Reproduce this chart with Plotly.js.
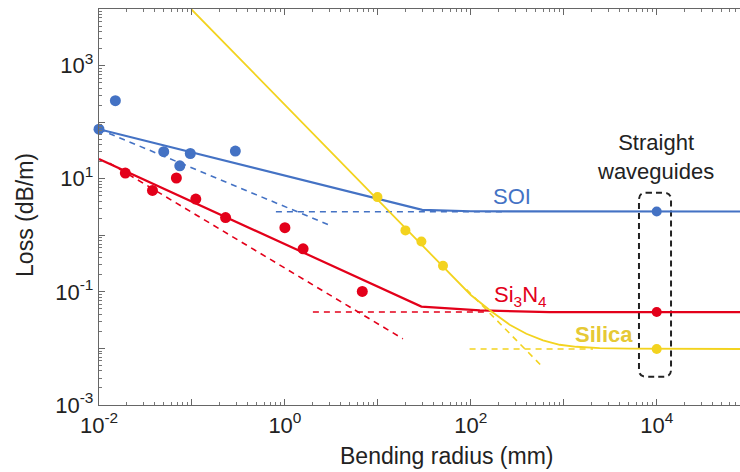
<!DOCTYPE html>
<html>
<head>
<meta charset="utf-8">
<script src="https://cdn.plot.ly/plotly-3.0.1.min.js"></script>
<style>html,body{margin:0;padding:0;background:#fff;}#chart{width:740px;height:472px;}</style>
</head>
<body>
<div id="chart"></div>
<script>
const soiBendR = [0.01, 0.015, 0.0497, 0.074, 0.096, 0.293];
const soiBendLoss = [75, 240, 30, 16.9, 27.9, 30.8];
const sinBendR = [0.0192, 0.0376, 0.068, 0.11, 0.23, 1.0, 1.57, 6.8];
const sinBendLoss = [12.6, 6.2, 10.3, 4.37, 2.06, 1.36, 0.577, 0.1016];
const silicaBendR = [9.9, 19.8, 29.4, 50.2];
const silicaBendLoss = [4.73, 1.22, 0.778, 0.289];

// ---- straight waveguides ----
const straightR = [10000, 10000, 10000];
const straightLoss = [2.63, 0.044, 0.00975];

// ---- model curves (solid) ----
const soiModelR = [0.01, 30, 100, 1000, 100000];
const soiModelLoss = [75, 2.82, 2.66, 2.63, 2.63];
const sinModelR = [0.01, 29.4, 125, 700, 100000];
const sinModelLoss = [22.2, 0.055, 0.047, 0.044, 0.044];
const silicaModelR = [0.0986, 50.2, 100, 166.7, 262, 396, 598, 904, 1368, 2438, 5000, 100000];
const silicaModelLoss = [9900, 0.289, 0.088, 0.0451, 0.0262, 0.0182, 0.01384, 0.01161, 0.0107, 0.01016, 0.0099, 0.00975];

// ---- asymptotes (dashed) ----
const soiBendOnlyR = [0.01, 2.9];
const soiBendOnlyLoss = [75, 1.55];
const soiFlatR = [0.8, 240];
const soiFlatLoss = [2.6, 2.6];
const sinBendOnlyR = [0.013, 18.6];
const sinBendOnlyLoss = [18.9, 0.0148];
const sinFlatR = [2.0, 147];
const sinFlatLoss = [0.044, 0.044];
const silicaBendOnlyR = [90, 575];
const silicaBendOnlyLoss = [0.11, 0.00494];
const silicaFlatR = [97, 2065];
const silicaFlatLoss = [0.00975, 0.00975];

// ---- axis ticks ----
const xLabelVals = [0.01, 1, 100, 10000];
const xLabelText = ['10<sup>-2</sup>', '10<sup>0</sup>', '10<sup>2</sup>', '10<sup>4</sup>'];
const xOddDecades = [0.1, 10, 1000, 100000];
const yLabelVals = [0.001, 0.1, 10, 1000];
const yLabelText = ['10<sup>-3</sup>', '10<sup>-1</sup>', '10<sup>1</sup>', '10<sup>3</sup>'];
const yOddDecades = [0.01, 1, 100, 10000];

const BLUE = '#4472C4', RED = '#E3001A', YEL = '#F3D31F', YELTXT = '#E6C935';
const FONT = 'Liberation Sans, Arial, sans-serif';

function line(x, y, color, width, dash) {
  return {x: x, y: y, type: 'scatter', mode: 'lines', hoverinfo: 'skip',
          line: {color: color, width: width, dash: dash || 'solid'}};
}
function pts(x, y, color, size) {
  return {x: x, y: y, type: 'scatter', mode: 'markers', cliponaxis: false, hoverinfo: 'skip',
          marker: {color: color, size: size, line: {width: 0}}};
}

const traces = [
  // empty trace that carries the helper axes (unlabelled decade ticks)
  {x: [], y: [], type: 'scatter', mode: 'markers', xaxis: 'x2', yaxis: 'y2', hoverinfo: 'skip'},
  line(soiBendOnlyR, soiBendOnlyLoss, BLUE, 1.6, '6px,5px'),
  line(soiFlatR, soiFlatLoss, BLUE, 1.6, '6px,5px'),
  line(sinBendOnlyR, sinBendOnlyLoss, RED, 1.6, '6px,5px'),
  line(sinFlatR, sinFlatLoss, RED, 1.6, '6px,5px'),
  line(silicaBendOnlyR, silicaBendOnlyLoss, YEL, 1.6, '6px,5px'),
  line(silicaFlatR, silicaFlatLoss, YEL, 1.6, '6px,5px'),
  line(soiModelR, soiModelLoss, BLUE, 2.2),
  line(sinModelR, sinModelLoss, RED, 2.2),
  line(silicaModelR, silicaModelLoss, YEL, 1.8),
  pts(soiBendR, soiBendLoss, BLUE, 11),
  pts(sinBendR, sinBendLoss, RED, 11),
  pts(silicaBendR, silicaBendLoss, YEL, 10),
  pts(straightR, straightLoss, [BLUE, RED, YEL], 10)
];

// dashed rounded box around straight-waveguide points (paper coords)
const bx0 = 0.8424, bx1 = 0.8924, byt = 0.5361, byb = 0.0715, rx = 0.0109, ry = 0.0177;
const boxPath = `M ${bx0+rx},${byt} L ${bx1-rx},${byt} Q ${bx1},${byt} ${bx1},${byt-ry} ` +
  `L ${bx1},${byb+ry} Q ${bx1},${byb} ${bx1-rx},${byb} L ${bx0+rx},${byb} ` +
  `Q ${bx0},${byb} ${bx0},${byb+ry} L ${bx0},${byt-ry} Q ${bx0},${byt} ${bx0+rx},${byt} Z`;

const axisCommon = {
  type: 'log', showgrid: false, zeroline: false, showline: true, linecolor: '#666', linewidth: 1.2,
  ticks: 'inside', ticklen: 6, tickwidth: 1, tickcolor: '#666', tickmode: 'array',
  tickfont: {family: FONT, size: 22, color: '#222'},
  minor: {ticks: 'inside', ticklen: 3, tickwidth: 1, tickcolor: '#777', dtick: 'D1', showgrid: false}
};
const helperCommon = {
  type: 'log', showgrid: false, zeroline: false, showline: false, showticklabels: false,
  ticks: 'inside', ticklen: 6, tickwidth: 1, tickcolor: '#666', tickmode: 'array'
};

const XRANGE = [-2, 4.896], YRANGE = [-3, 4.0];

const layout = {
  width: 740, height: 472,
  margin: {l: 99, r: 0, t: 9, b: 67, pad: 0},
  paper_bgcolor: '#fff', plot_bgcolor: 'rgba(0,0,0,0)',
  showlegend: false,
  font: {family: FONT, color: '#222'},
  xaxis: Object.assign({}, axisCommon, {range: XRANGE, tickvals: xLabelVals, ticktext: xLabelText, mirror: 'ticks'}),
  yaxis: Object.assign({}, axisCommon, {range: YRANGE, tickvals: yLabelVals, ticktext: yLabelText}),
  xaxis2: Object.assign({}, helperCommon, {range: XRANGE, tickvals: xOddDecades, overlaying: 'x', anchor: 'y', side: 'bottom', mirror: 'ticks'}),
  yaxis2: Object.assign({}, helperCommon, {range: YRANGE, tickvals: yOddDecades, overlaying: 'y', anchor: 'x', side: 'left'}),
  shapes: [{type: 'path', xref: 'paper', yref: 'paper', path: boxPath,
            line: {color: '#222', width: 2, dash: '6px,4px'}, fillcolor: 'rgba(0,0,0,0)', layer: 'below'}],
  annotations: [
    {xref: 'paper', yref: 'paper', x: 0.542, y: -0.1288, text: 'Bending radius (mm)', showarrow: false,
     xanchor: 'center', yanchor: 'middle', font: {size: 23, color: '#222'}},
    {xref: 'paper', yref: 'paper', x: -0.1154, y: 0.48, text: 'Loss (dB/m)', showarrow: false, textangle: -90,
     xanchor: 'center', yanchor: 'middle', font: {size: 23, color: '#222'}},
    {xref: 'paper', yref: 'paper', x: 0.6443, y: 0.5253, text: 'SOI', showarrow: false,
     xanchor: 'center', yanchor: 'middle', font: {size: 22, color: BLUE}},
    {xref: 'paper', yref: 'paper', x: 0.6568, y: 0.2753, text: 'Si<sub>3</sub>N<sub>4</sub>', showarrow: false,
     xanchor: 'center', yanchor: 'middle', font: {size: 22, color: RED}},
    {xref: 'paper', yref: 'paper', x: 0.7886, y: 0.1768, text: '<b>Silica</b>', showarrow: false,
     xanchor: 'center', yanchor: 'middle', font: {size: 22, color: YELTXT}},
    {xref: 'paper', yref: 'paper', x: 0.8674, y: 0.6263, text: 'Straight<br>waveguides', showarrow: false,
     xanchor: 'center', yanchor: 'middle', align: 'center', font: {size: 22, color: '#222'}}
  ]
};

Plotly.newPlot('chart', traces, layout, {staticPlot: true, displayModeBar: false});
</script>
</body>
</html>
